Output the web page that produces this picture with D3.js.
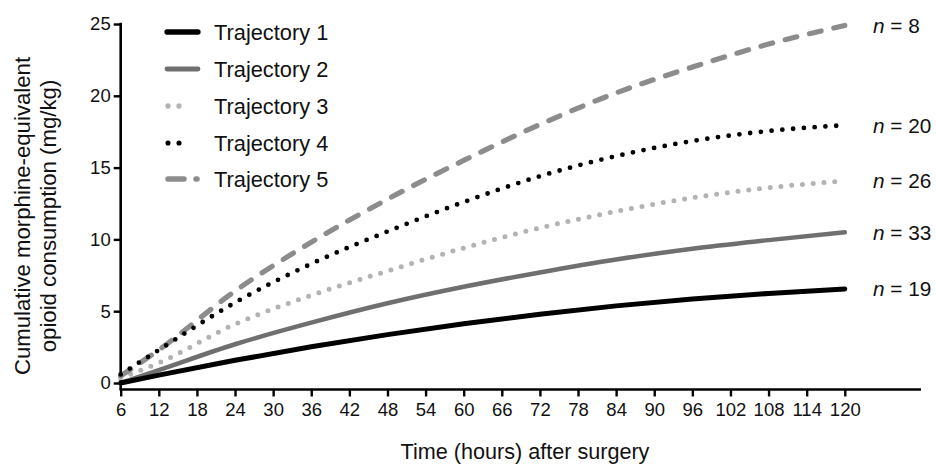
<!DOCTYPE html>
<html>
<head>
<meta charset="utf-8">
<script src="https://cdn.jsdelivr.net/npm/d3@7/dist/d3.min.js"></script>
<style>
  html, body { margin: 0; padding: 0; background: #fff; }
  svg { display: block; font-family: "Liberation Sans", Arial, Helvetica, sans-serif; }
</style>
</head>
<body>
<svg id="chart" width="937" height="466"></svg>
<script>
// ---- Data ----
const hours = [6, 12, 24, 36, 48, 60, 72, 84, 96, 108, 120];
const traj1 = [0.0, 0.55, 1.58, 2.52, 3.37, 4.12, 4.79, 5.37, 5.85, 6.24, 6.55];
const traj2 = [0.0, 0.9, 2.7, 4.2, 5.55, 6.7, 7.7, 8.6, 9.35, 9.95, 10.5];
const traj3 = [0.35, 1.4, 4.1, 6.1, 7.8, 9.4, 10.8, 11.95, 12.9, 13.6, 14.07];
const traj4 = [0.6, 2.3, 5.6, 8.3, 10.55, 12.6, 14.4, 15.8, 16.85, 17.55, 17.95];
const traj5 = [0.5, 2.3, 6.4, 9.8, 12.8, 15.5, 18.0, 20.2, 22.0, 23.6, 24.9];
const seriesNames = ["Trajectory 1", "Trajectory 2", "Trajectory 3", "Trajectory 4", "Trajectory 5"];
const groupSizes = [19, 33, 26, 20, 8];
const xTicks = [6, 12, 18, 24, 30, 36, 42, 48, 54, 60, 66, 72, 78, 84, 90, 96, 102, 108, 114, 120];
const yTicks = [0, 5, 10, 15, 20, 25];
const xTitle = "Time (hours) after surgery";
const yTitle = ["Cumulative morphine-equivalent", "opioid consumption (mg/kg)"];

// ---- Styles ----
const styles = [
  { color: "#000000", width: 5,   dash: null,    cap: "round" },
  { color: "#6f6f6f", width: 4.5, dash: null,    cap: "round" },
  { color: "#b3b3b3", width: 5,   dash: "0,10.8", cap: "round" },
  { color: "#000000", width: 4.8, dash: "0,10.8", cap: "round" },
  { color: "#8c8c8c", width: 5.2, dash: "12,13",  cap: "round" }
];

const svg = d3.select("#chart");
const x = d3.scaleLinear().domain([6, 132]).range([120.7, 921]);
const y = d3.scaleLinear().domain([0, 25]).range([383, 24]);
const axisY0 = y(-0.45);

const font = "Liberation Sans, Arial, Helvetica, sans-serif";

// X axis
const xAxis = d3.axisBottom(x).tickValues(xTicks).tickSize(7).tickPadding(6).tickFormat(d3.format("d"));
const gx = svg.append("g").attr("transform", `translate(0,${axisY0})`).call(xAxis);
gx.select(".domain").remove();
gx.append("line").attr("x1", x(6) - 1.2).attr("x2", x(132)).attr("y1", 0).attr("y2", 0)
  .attr("stroke", "#000").attr("stroke-width", 2.6);
gx.selectAll(".tick line").attr("stroke", "#000").attr("stroke-width", 2.4);
gx.selectAll(".tick text").attr("font-family", font).attr("font-size", 18.5).attr("fill", "#111");

// Y axis
const yAxis = d3.axisLeft(y).tickValues(yTicks).tickSize(7).tickPadding(3);
const gy = svg.append("g").attr("transform", `translate(${x(6)},0)`).call(yAxis);
gy.select(".domain").remove();
gy.append("line").attr("x1", 0).attr("x2", 0).attr("y1", y(25) - 1.2).attr("y2", axisY0)
  .attr("stroke", "#000").attr("stroke-width", 2.6);
gy.selectAll(".tick line").attr("stroke", "#000").attr("stroke-width", 2.4);
gy.selectAll(".tick text").attr("font-family", font).attr("font-size", 18.5).attr("fill", "#111");

// Lines
const allSeries = [traj1, traj2, traj3, traj4, traj5];
const line = d3.line().x(d => x(d[0])).y(d => y(d[1])).curve(d3.curveMonotoneX);
const order = [2, 1, 0, 4, 3];
order.forEach(i => {
  const pts = hours.map((h, k) => [h, allSeries[i][k]]);
  const s = styles[i];
  svg.append("path").datum(pts).attr("d", line)
    .attr("fill", "none").attr("stroke", s.color).attr("stroke-width", s.width)
    .attr("stroke-linecap", s.cap).attr("stroke-dasharray", s.dash);
});

// n labels at line ends
allSeries.forEach((vals, i) => {
  const t = svg.append("text").attr("x", 873).attr("y", y(vals[vals.length - 1]))
    .attr("dy", "0.36em").attr("font-family", font).attr("font-size", 20.8).attr("fill", "#111");
  t.append("tspan").attr("font-style", "italic").text("n");
  t.append("tspan").text(" = " + groupSizes[i]);
});

// Legend
const legY = [32, 69, 106, 143, 179];
seriesNames.forEach((name, i) => {
  const s = styles[i];
  const g = svg.append("g");
  let x1 = 167, x2 = 198;
  let dash = s.dash;
  if (i === 2 || i === 3) { x1 = 168; x2 = 190; dash = "0,11"; }
  if (i === 4) { x1 = 168; x2 = 197; dash = "16,12"; }
  g.append("line").attr("x1", x1).attr("x2", x2).attr("y1", legY[i]).attr("y2", legY[i])
    .attr("stroke", s.color).attr("stroke-width", s.width + 0.3)
    .attr("stroke-linecap", "round").attr("stroke-dasharray", dash);
  g.append("text").attr("x", 214).attr("y", legY[i]).attr("dy", "0.36em")
    .attr("font-family", font).attr("font-size", 21.8).attr("fill", "#111").text(name);
});

// Axis titles
svg.append("text").attr("x", 525).attr("y", 459)
  .attr("text-anchor", "middle").attr("font-family", font).attr("font-size", 21.6).attr("fill", "#111")
  .text(xTitle);

const yt = svg.append("text").attr("transform", "translate(30,216) rotate(-90)")
  .attr("text-anchor", "middle").attr("font-family", font).attr("font-size", 22.2).attr("fill", "#111");
yt.append("tspan").attr("x", 0).attr("y", 0).text(yTitle[0]);
yt.append("tspan").attr("x", 0).attr("y", 26).text(yTitle[1]);
</script>
</body>
</html>
